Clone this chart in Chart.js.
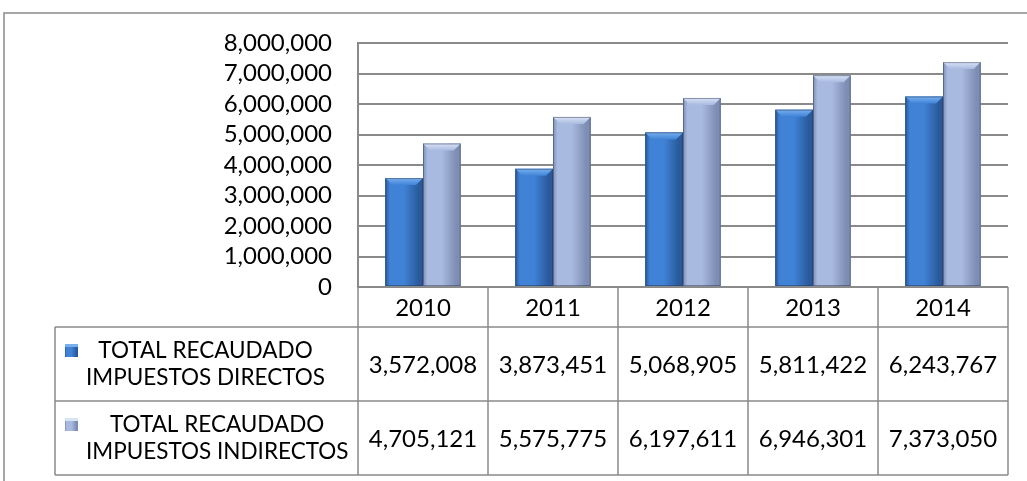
<!DOCTYPE html>
<html>
<head>
<meta charset="utf-8">
<script src="https://cdn.jsdelivr.net/npm/chart.js@4/dist/chart.umd.min.js"></script>
<style>
  body { margin: 0; background: #fff; }
  #wrap { position: relative; width: 1027px; height: 481px; }
</style>
</head>
<body>
<div id="wrap"><canvas id="chart"></canvas></div>
<script>
const years = ['2010', '2011', '2012', '2013', '2014'];
const directos = [3572008, 3873451, 5068905, 5811422, 6243767];
const indirectos = [4705121, 5575775, 6197611, 6946301, 7373050];
const seriesNames = [
  ['TOTAL RECAUDADO', 'IMPUESTOS DIRECTOS'],
  ['TOTAL RECAUDADO', 'IMPUESTOS INDIRECTOS'],
];

const FONT = 'Lato, "Open Sans", sans-serif';
const LINE = '#8a8a8a';
const fmt = (v) => v.toLocaleString('en-US');

// bar shading: [edge, center, top bevel]
const shades = [
  { edge: '#2a5a9c', mid: '#3f82d6', top: '#78b0ee' },
  { edge: '#7d8db4', mid: '#a9bae0', top: '#d9e3f6' },
];

function shadeRect(ctx, left, top, w, h, s) {
  const g = ctx.createLinearGradient(left, 0, left + w, 0);
  g.addColorStop(0, s.edge);
  g.addColorStop(0.12, s.mid);
  g.addColorStop(0.5, s.mid);
  g.addColorStop(0.88, s.edge);
  g.addColorStop(1, s.edge);
  ctx.fillStyle = g;
  ctx.fillRect(left, top, w, h);
}

const bevelPlugin = {
  id: 'bevel',
  afterDatasetsDraw(chart) {
    const ctx = chart.ctx;
    chart.data.datasets.forEach((ds, di) => {
      const s = shades[di];
      chart.getDatasetMeta(di).data.forEach((el) => {
        const left = el.x - el.width / 2;
        const w = el.width;
        const top = el.y;
        const h = el.base - el.y;
        ctx.save();
        shadeRect(ctx, left, top, w, h, s);
        // top bevel
        const b = 7;
        const tg = ctx.createLinearGradient(0, top, 0, top + b);
        tg.addColorStop(0, s.top);
        tg.addColorStop(1, s.mid);
        ctx.fillStyle = tg;
        ctx.beginPath();
        ctx.moveTo(left, top);
        ctx.lineTo(left + w, top);
        ctx.lineTo(left + w - b, top + b);
        ctx.lineTo(left + b, top + b);
        ctx.closePath();
        ctx.fill();
        ctx.strokeStyle = 'rgba(40,50,80,0.45)';
        ctx.lineWidth = 1;
        ctx.strokeRect(left + 0.5, top + 0.5, w - 1, h - 1);
        ctx.restore();
      });
    });
  },
};

const tablePlugin = {
  id: 'dataTable',
  afterDraw(chart) {
    const ctx = chart.ctx;
    const area = chart.chartArea;
    const x = chart.scales.x;
    const n = years.length;
    const colW = (area.right - area.left) / n;
    const headTop = area.bottom;
    const headBottom = headTop + 40;
    const rowH = 74;
    const tableBottom = headBottom + rowH * 2;
    const legendLeft = 55;

    ctx.save();
    ctx.strokeStyle = LINE;
    ctx.lineWidth = 1.5;

    // outer frame of the chart
    ctx.beginPath();
    ctx.moveTo(4, 490);
    ctx.lineTo(4, 13);
    ctx.lineTo(1040, 13);
    ctx.stroke();

    ctx.beginPath();
    ctx.moveTo(area.left, headTop);
    ctx.lineTo(area.right, headTop);
    [headBottom, headBottom + rowH, tableBottom].forEach((yy) => {
      ctx.moveTo(legendLeft, yy);
      ctx.lineTo(area.right, yy);
    });
    ctx.moveTo(legendLeft, headBottom);
    ctx.lineTo(legendLeft, tableBottom);
    for (let i = 0; i <= n; i++) {
      const xx = area.left + colW * i;
      ctx.moveTo(xx, headTop);
      ctx.lineTo(xx, tableBottom);
    }
    ctx.stroke();

    ctx.fillStyle = '#000';
    ctx.font = '24px ' + FONT;
    ctx.textAlign = 'center';
    ctx.textBaseline = 'middle';
    years.forEach((yr, i) => {
      const cx = x.getPixelForValue(i);
      ctx.fillText(yr, cx, (headTop + headBottom) / 2 + 1);
      ctx.fillText(fmt(directos[i]), cx, headBottom + rowH / 2 + 1);
      ctx.fillText(fmt(indirectos[i]), cx, headBottom + rowH * 1.5 + 1);
    });

    // legend cells
    ctx.font = '22.5px ' + FONT;
    seriesNames.forEach((lines, r) => {
      const rowTop = headBottom + rowH * r;
      const maxW = Math.max(...lines.map((t) => ctx.measureText(t).width));
      const cx = 86 + maxW / 2;
      const y1 = rowTop + rowH / 2 - 13;
      const y2 = rowTop + rowH / 2 + 14;
      ctx.fillText(lines[0], cx, y1);
      ctx.fillText(lines[1], cx, y2);
      const s = shades[r];
      shadeRect(ctx, 65, y1 - 7, 13, 13, s);
      ctx.fillStyle = s.top;
      ctx.fillRect(65, y1 - 7, 13, 3);
      ctx.fillStyle = '#000';
    });
    ctx.restore();
  },
};

new Chart(document.getElementById('chart'), {
  type: 'bar',
  data: {
    labels: years,
    datasets: [
      {
        label: seriesNames[0].join(' '),
        data: directos,
        backgroundColor: shades[0].mid,
        barPercentage: 1,
        categoryPercentage: 0.58,
      },
      {
        label: seriesNames[1].join(' '),
        data: indirectos,
        backgroundColor: shades[1].mid,
        barPercentage: 1,
        categoryPercentage: 0.58,
      },
    ],
  },
  options: {
    responsive: true,
    maintainAspectRatio: false,
    animation: false,
    layout: { padding: { top: 43, right: 19, bottom: 194, left: 0 } },
    plugins: { legend: { display: false }, tooltip: { enabled: false } },
    scales: {
      x: { display: false },
      y: {
        min: 0,
        max: 8000000,
        afterFit: (scale) => { scale.width = 358; },
        ticks: {
          stepSize: 1000000,
          autoSkip: false,
          padding: 26,
          color: '#000',
          font: { family: FONT, size: 24 },
          callback: (v) => fmt(v),
        },
        grid: { color: LINE, lineWidth: 2, drawTicks: false },
        border: { color: LINE, width: 2 },
      },
    },
  },
  plugins: [bevelPlugin, tablePlugin],
});
</script>
</body>
</html>
